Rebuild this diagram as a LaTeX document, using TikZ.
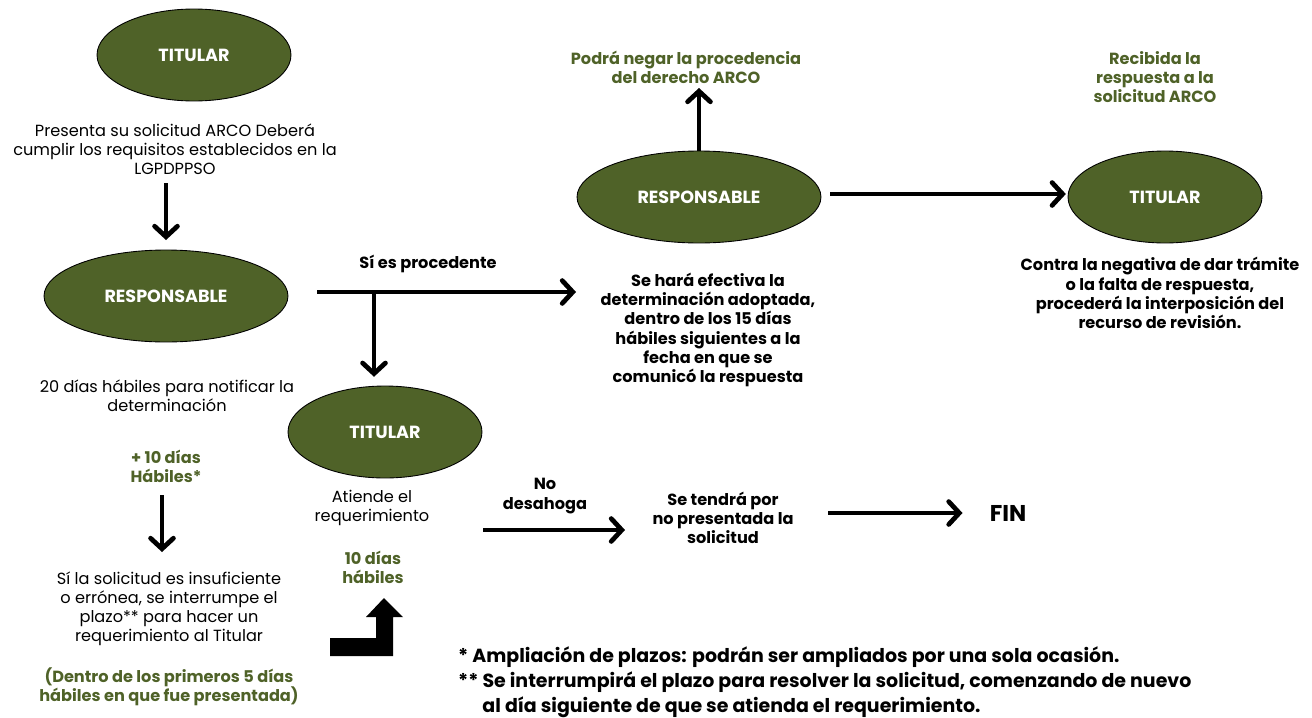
\documentclass[tikz,border=0pt]{standalone}
\usepackage{fontspec}
\setmainfont{Poppins}
\usetikzlibrary{shapes.geometric,arrows.meta,positioning,calc}
\definecolor{verde}{RGB}{79,98,40}

\begin{document}
\begin{tikzpicture}[x=0.02cm,y=-0.02cm,
    elipse/.style={ellipse,draw=black,line width=0.5pt,fill=verde,text=white,
        inner sep=0pt,minimum width=3.88cm,minimum height=1.84cm,font=\fontsize{10}{12}\selectfont\bfseries},
    elipsegr/.style={elipse,minimum width=4.88cm},
    texto/.style={align=center,font=\fontsize{9.2}{10.9}\selectfont},
    negro/.style={align=center,font=\fontsize{9.2}{10.9}\selectfont\bfseries},
    verdet/.style={negro,text=verde},
    flecha/.style={line width=2.7pt,-{Straight Barb[length=6pt,width=13pt,line cap=round]}}]
\useasboundingbox (0,0) rectangle (1312,717);
% columna izquierda
\node[elipse] (tit1) at (194,55) {TITULAR};
\node[texto] (pres) at (175,149) {Presenta su solicitud ARCO Deberá\\cumplir los requisitos establecidos en la\\LGPDPPSO};
\node[elipsegr] (resp1) at (166,296) {RESPONSABLE};
\node[texto] (plazo) at (167,396) {20 días hábiles para notificar la\\determinación};
\node[verdet] (ext) at (166,466) {+ 10 días\\Hábiles*};
\node[texto] (insuf) at (169,609) {Sí la solicitud es insuficiente\\o errónea, se interrumpe el\\plazo** para hacer un\\requerimiento al Titular};
\node[verdet] (dentro) at (169,687) {(Dentro de los primeros 5 días\\hábiles en que fue presentada)};
\draw[flecha] (166,183) -- (166,240);
\draw[flecha] (162,495) -- (162,552);
% titular que atiende
\coordinate (si) at (317,292);
\coordinate (rama) at (374,292);
\coordinate (sifin) at (576,292);
\node[negro] (proc) at (428,264) {Sí es procedente};
\node[elipse] (tit2) at (385,432) {TITULAR};
\node[texto] (atiende) at (372,508) {Atiende el\\requerimiento};
\node[verdet] (diez) at (373,567) {10 días\\hábiles};
\draw[flecha] (si) -- (sifin);
\draw[flecha] (rama) -- ([yshift=5pt]rama |- tit2.north);
\fill (330,638) -- (376,638) -- (376,617) -- (366,617) -- (384,598)
    -- (403,617) -- (393,617) -- (393,656) -- (330,656) -- cycle;
% responsable arriba
\node[negro] (efect) at (708,330) {Se hará efectiva la\\determinación adoptada,\\dentro de los 15 días\\hábiles siguientes a la\\fecha en que se\\comunicó la respuesta};
\node[elipsegr] (resp2) at (699,197) {RESPONSABLE};
\node[verdet] (negar) at (686,67) {Podrá negar la procedencia\\del derecho ARCO};
\node[verdet] (recib) at (1155,77) {Recibida la\\respuesta a la\\solicitud ARCO};
\node[elipse] (tit3) at (1165,197) {TITULAR};
\node[negro] (contra) at (1160,293) {Contra la negativa de dar trámite\\o la falta de respuesta,\\procederá la interposición del\\recurso de revisión.};
\draw[flecha] (resp2.north) -- (699,88);
\draw[flecha] (830,194) coordinate (der) -- ([xshift=-1pt]der -| tit3.west);
% no desahoga
\node[negro] (nodes) at (545,496) {No\\desahoga};
\node[negro] (nopres) at (723,518) {Se tendrá por\\no presentada la\\solicitud};
\node[font=\fontsize{13}{15}\selectfont\bfseries] (fin) at (1008,513) {FIN};
\coordinate (nd1) at (483,530);
\coordinate (nd2) at (625,530);
\draw[flecha] (nd1) -- (nd2);
\draw[flecha] (828,513) coordinate (np) -- ([xshift=-12pt]np -| fin.west);
% notas
\node[anchor=west,align=left,font=\fontsize{10.8}{14.2}\selectfont\bfseries] (notas) at (452,682)
  {* Ampliación de plazos: podrán ser ampliados por una sola ocasión.\\
   ** Se interrumpirá el plazo para resolver la solicitud, comenzando de nuevo\\
   \hphantom{** }al día siguiente de que se atienda el requerimiento.};
\end{tikzpicture}
\end{document}
